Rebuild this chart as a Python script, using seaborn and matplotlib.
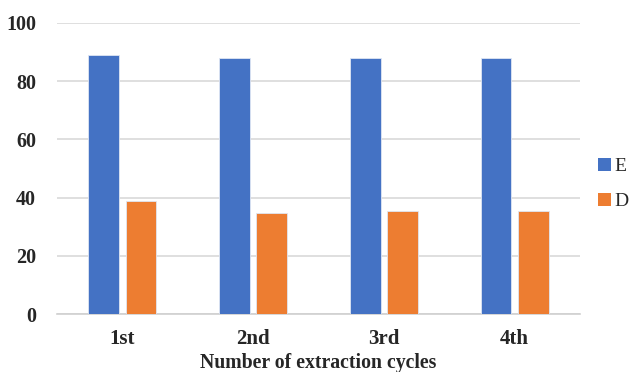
import matplotlib
matplotlib.use("Agg")
import matplotlib.pyplot as plt
import seaborn as sns
import pandas as pd
from matplotlib.patches import Patch
from matplotlib.ticker import FixedLocator

# Data
cycles = ["1st", "2nd", "3rd", "4th"]
series_names = ["E", "D"]
e_values = [89.1, 88.0, 88.0, 88.0]
d_values = [39.0, 34.8, 35.5, 35.5]
yticks = [0, 20, 40, 60, 80, 100]

colors = {"E": "#4472C4", "D": "#ED7D31"}

df = pd.DataFrame({
    "cycle": cycles * 2,
    "value": e_values + d_values,
    "series": [series_names[0]] * len(cycles) + [series_names[1]] * len(cycles),
})

sns.set_style("white")
plt.rcParams["font.family"] = ["Liberation Serif", "DejaVu Serif"]

fig = plt.figure(figsize=(6.3, 3.72), dpi=100)
ax = fig.add_axes([57 / 630, (372 - 314) / 372, 523 / 630, 291 / 372])

sns.barplot(data=df, x="cycle", y="value", hue="series", order=cycles,
            hue_order=series_names, palette=colors, saturation=1,
            width=0.57, gap=0.17, edgecolor="#dfe6f3", linewidth=0.6,
            legend=False, ax=ax, zorder=3)

ax.set_xlim(-0.5, len(cycles) - 0.5)
ax.set_ylim(0, 100)
ax.set_yticks(yticks)
ax.yaxis.grid(True, color="#d9d9d9", linewidth=1.2, zorder=0)
ax.set_axisbelow(True)

for s in ["top", "right", "left"]:
    ax.spines[s].set_visible(False)
ax.spines["bottom"].set_color("#d0d0d0")
ax.spines["bottom"].set_linewidth(1.2)

ax.tick_params(axis="y", length=0, pad=15, labelsize=14.5)
ax.tick_params(axis="x", which="major", length=0, pad=11, labelsize=15)
ax.xaxis.set_minor_locator(FixedLocator([i - 0.5 for i in range(len(cycles) + 1)]))
ax.tick_params(axis="x", which="minor", length=5, width=1.2, color="#d0d0d0")
for lbl in ax.get_xticklabels() + ax.get_yticklabels():
    lbl.set_fontweight("bold")

ax.set_ylabel("")
ax.set_xlabel("Number of extraction cycles", fontsize=14.2, fontweight="bold", labelpad=3)

handles = [Patch(facecolor=colors[n], edgecolor="none") for n in series_names]
fig.legend(handles, series_names, loc="center left",
           bbox_to_anchor=(598 / 630, (372 - 184) / 372), frameon=False,
           handlelength=0.65, handleheight=0.65, handletextpad=0.2,
           labelspacing=0.9, fontsize=14, borderaxespad=0, borderpad=0)

fig.savefig("out.png", dpi=100)
